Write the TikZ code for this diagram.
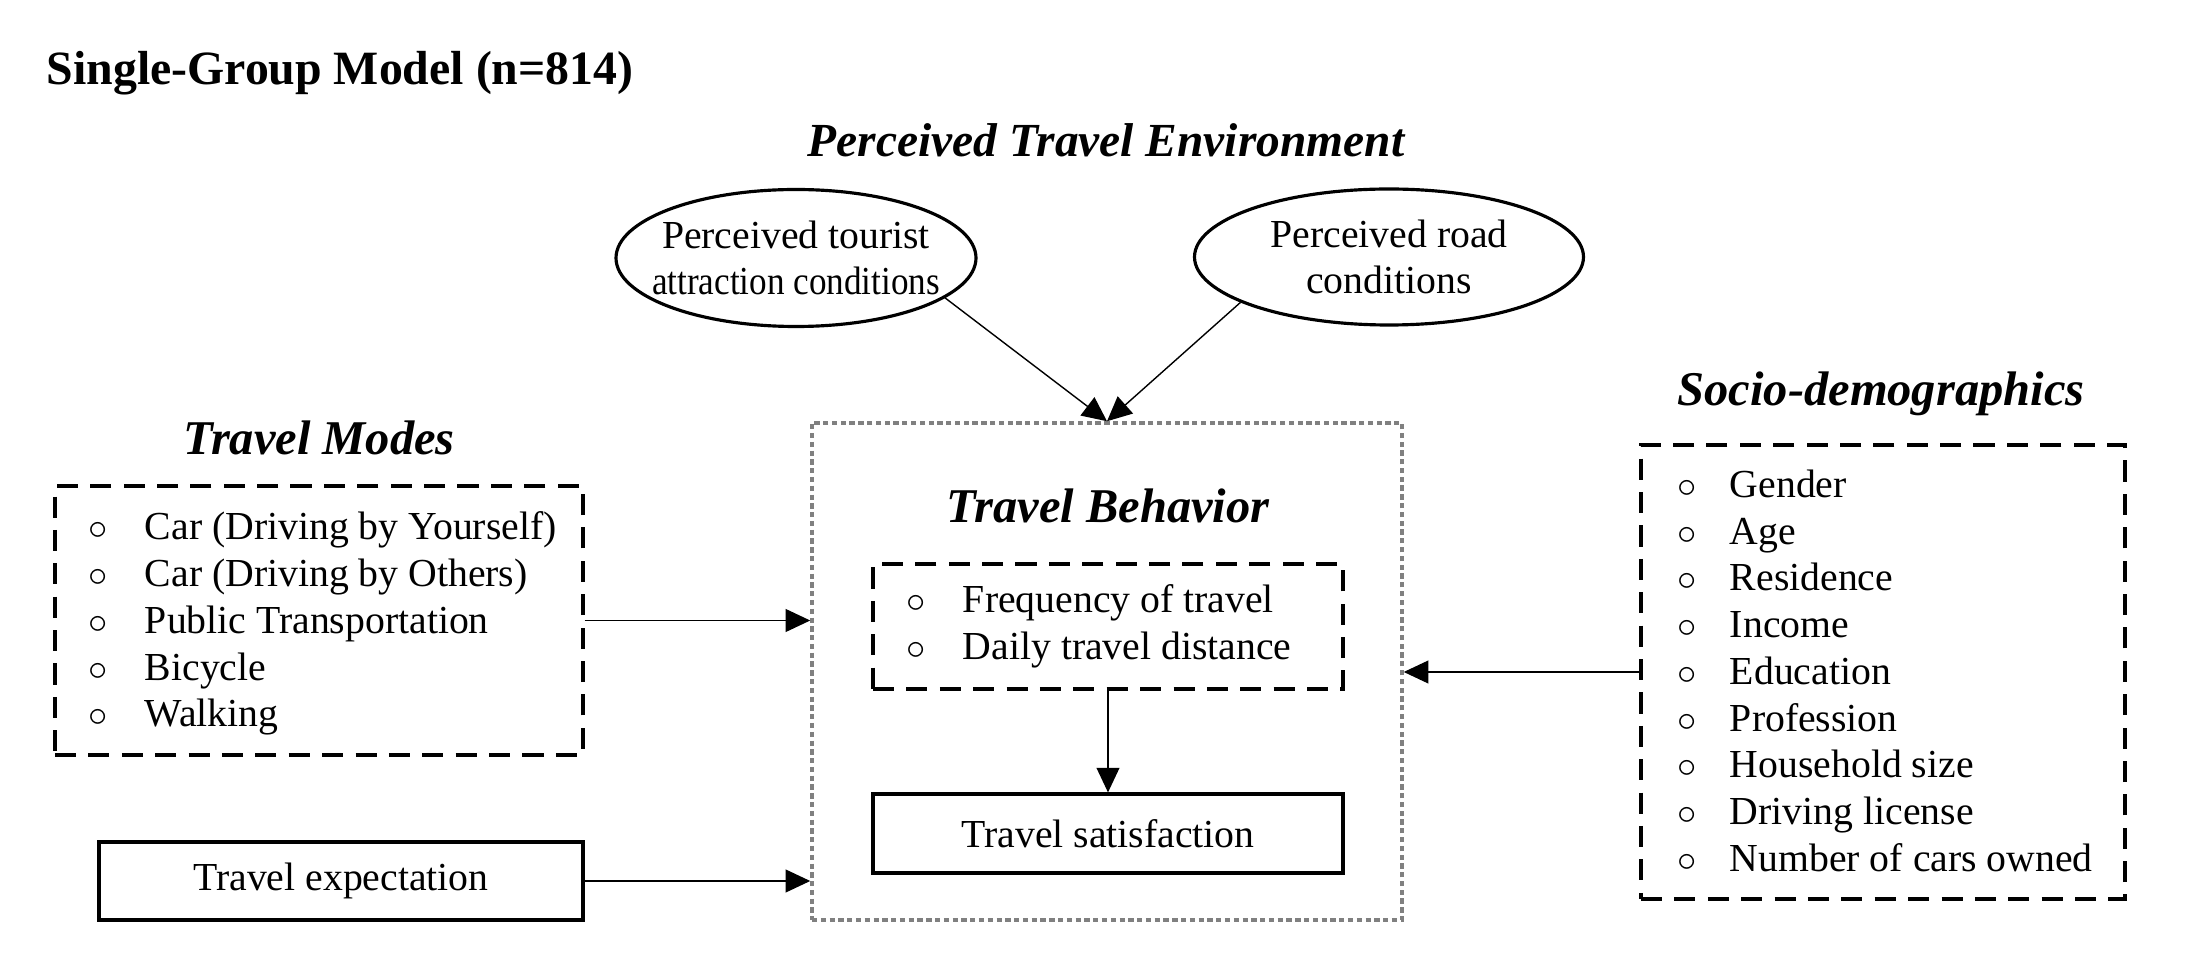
\documentclass[tikz,border=0pt]{standalone}
\usepackage{fontspec}
\usepackage{graphicx}
\setmainfont{Liberation Serif}
\usetikzlibrary{arrows.meta,shapes.geometric}
\newcommand{\bul}{$\circ$}

\begin{document}
\begin{tikzpicture}[
  >={Triangle[length=7pt,width=6.5pt]},
  every node/.style={font=\fontsize{11.3}{13.3}\selectfont},
  head/.style={font=\fontsize{13.8}{16}\selectfont\bfseries\itshape},
  dashbox/.style={draw,line width=0.9pt,dash pattern=on 6pt off 3.5pt},
  plainbox/.style={draw,line width=0.9pt},
  itemlist/.style={anchor=west,inner sep=0pt,align=left},
  link/.style={draw,line width=0.4pt,->}
]
\useasboundingbox (0,0) rectangle (21.96,-9.56);

\node[anchor=west,inner sep=0pt,font=\fontsize{13.6}{16}\selectfont\bfseries] (title) at (0.46,-0.73) {Single-Group Model (n=814)};

% perceived travel environment
\node[head,font=\fontsize{13.5}{16}\selectfont\bfseries\itshape] (envhead) at (11.06,-1.40) {Perceived Travel Environment};
\node[draw,ellipse,line width=0.9pt,minimum width=3.6cm,minimum height=1.37cm,inner xsep=-0.17cm,inner ysep=0pt,align=center] (e1) at (7.96,-2.58) {Perceived tourist\\\scalebox{0.885}[1]{attraction conditions}};
\node[draw,ellipse,line width=0.9pt,minimum width=3.89cm,minimum height=1.36cm,inner sep=0pt,align=center] (e2) at (13.89,-2.57) {Perceived road\\conditions};

% travel behavior
\node[draw=gray,line width=1pt,dash pattern=on 1.5pt off 1pt,minimum width=5.9cm,minimum height=4.97cm] (behav) at (11.07,-6.715) {};
\node[head] (behhead) at (11.08,-5.06) {Travel Behavior};
\node[dashbox,minimum width=4.7cm,minimum height=1.25cm] (freq) at (11.08,-6.265) {};
\node[itemlist] (freqlist) at (9.06,-6.27) {\begin{tabular}{@{}l@{\hspace{0.37cm}}l@{}}
\bul & Frequency of travel\\
\bul & Daily travel distance
\end{tabular}};
\node[plainbox,minimum width=4.7cm,minimum height=0.79cm] (sat) at (11.08,-8.335) {Travel satisfaction};

% travel modes
\node[head] (modehead) at (3.19,-4.38) {Travel Modes};
\node[dashbox,minimum width=5.28cm,minimum height=2.69cm] (modes) at (3.19,-6.205) {};
\node[itemlist] (modelist) at (0.88,-6.24) {\begin{tabular}{@{}l@{\hspace{0.37cm}}l@{}}
\bul & Car (Driving by Yourself)\\
\bul & Car (Driving by Others)\\
\bul & Public Transportation\\
\bul & Bicycle\\
\bul & Walking
\end{tabular}};
\node[plainbox,minimum width=4.84cm,minimum height=0.78cm] (expect) at (3.41,-8.81) {Travel expectation};

% socio-demographics
\node[head] (sochead) at (18.81,-3.94) {Socio-demographics};
\node[dashbox,minimum width=4.84cm,minimum height=4.54cm] (socio) at (18.83,-6.72) {};
\node[itemlist] (soclist) at (16.77,-6.75) {\begin{tabular}{@{}l@{\hspace{0.33cm}}l@{}}
\bul & Gender\\
\bul & Age\\
\bul & Residence\\
\bul & Income\\
\bul & Education\\
\bul & Profession\\
\bul & Household size\\
\bul & Driving license\\
\bul & Number of cars owned
\end{tabular}};

\path[link] (e1.-15) -- (behav.north);
\path[link] (e2.197) -- (behav.north);
\path[link] (modes.east) -- (modes.east -| behav.west);
\path[link] (expect.east) -- (expect.east -| behav.west);
\path[link] (socio.west) -- (socio.west -| behav.east);
\path[link] (freq.south) -- (sat.north);
\end{tikzpicture}
\end{document}
